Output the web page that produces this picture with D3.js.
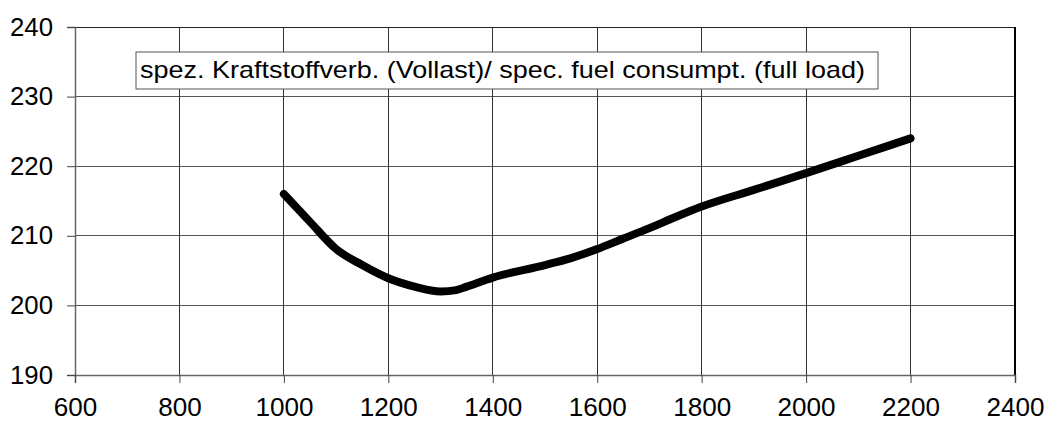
<!DOCTYPE html>
<html>
<head>
<meta charset="utf-8">
<script src="https://cdn.jsdelivr.net/npm/d3@7"></script>
<style>
  body { margin: 0; background: #fff; }
  text { font-family: "Liberation Sans", Arial, sans-serif; }
</style>
</head>
<body>
<div id="chart"></div>
<script>
const rpm = [1000, 1050, 1100, 1150, 1200, 1250, 1300, 1330, 1350, 1400, 1500, 1550, 1600, 1650, 1700, 1750, 1800, 1900, 2000, 2100, 2200];
const consumption = [216, 212.0, 208.1, 205.8, 203.9, 202.7, 202.0, 202.2, 202.7, 204.0, 205.8, 206.8, 208.1, 209.6, 211.1, 212.7, 214.2, 216.6, 219.0, 221.5, 224.0];
const xTicks = [600, 800, 1000, 1200, 1400, 1600, 1800, 2000, 2200, 2400];
const yTicks = [190, 200, 210, 220, 230, 240];
const legendLabel = "spez. Kraftstoffverb. (Vollast)/ spec. fuel consumpt. (full load)";

const width = 1047, height = 425;
const margin = { top: 27, right: 32, bottom: 50, left: 75 };
const innerW = width - margin.left - margin.right;
const innerH = height - margin.top - margin.bottom;

const svg = d3.select("#chart").append("svg")
    .attr("width", width)
    .attr("height", height);

const g = svg.append("g")
    .attr("transform", `translate(${margin.left}, ${margin.top})`);

const x = d3.scaleLinear().domain([600, 2400]).range([0, innerW]);
const y = d3.scaleLinear().domain([190, 240]).range([innerH, 0]);

// grid lines
g.append("g").selectAll("line")
    .data(yTicks.slice(1, -1))
    .enter().append("line")
    .attr("x1", 0).attr("x2", innerW)
    .attr("y1", d => y(d)).attr("y2", d => y(d))
    .attr("stroke", "#555").attr("stroke-width", 1)
    .attr("shape-rendering", "crispEdges");

g.append("g").selectAll("line")
    .data(xTicks.slice(1, -1))
    .enter().append("line")
    .attr("x1", d => x(d)).attr("x2", d => x(d))
    .attr("y1", 0).attr("y2", innerH)
    .attr("stroke", "#333").attr("stroke-width", 1)
    .attr("shape-rendering", "crispEdges");

// frame: top and right
g.append("line").attr("x1", 0).attr("x2", innerW).attr("y1", 0).attr("y2", 0)
    .attr("stroke", "#222").attr("shape-rendering", "crispEdges");
g.append("line").attr("x1", innerW).attr("x2", innerW).attr("y1", 0).attr("y2", innerH)
    .attr("stroke", "#000").attr("stroke-width", 2).attr("shape-rendering", "crispEdges");

// axes
const yAxis = g.append("g")
    .call(d3.axisLeft(y).tickValues(yTicks).tickSize(8).tickPadding(14).tickFormat(d3.format("d")));
const xAxis = g.append("g")
    .attr("transform", `translate(0, ${innerH})`)
    .call(d3.axisBottom(x).tickValues(xTicks).tickSize(8).tickPadding(12).tickFormat(d3.format("d")));

[yAxis, xAxis].forEach(ax => {
    ax.select("path.domain").attr("stroke", "#666").attr("stroke-width", 1.5);
    ax.selectAll(".tick line").attr("stroke", "#444");
    ax.selectAll("text")
        .attr("font-size", 25)
        .attr("fill", "#000")
        .style("font-family", "'Liberation Sans', Arial, sans-serif");
});
yAxis.selectAll("text").attr("textLength", 43).attr("lengthAdjust", "spacingAndGlyphs");
xAxis.selectAll("text").attr("dy", "0.85em")
    .attr("textLength", d => String(d).length * 14.5).attr("lengthAdjust", "spacingAndGlyphs");

// legend box
const legend = g.append("g").attr("transform", "translate(61, 25)");
legend.append("rect")
    .attr("x", 0).attr("y", 0)
    .attr("width", 742).attr("height", 37)
    .attr("fill", "#fff")
    .attr("stroke", "#555");
legend.append("text")
    .attr("x", 4).attr("y", 26)
    .attr("font-size", 24)
    .attr("textLength", 725)
    .attr("lengthAdjust", "spacingAndGlyphs")
    .text(legendLabel);

// curve
const line = d3.line()
    .x((d, i) => x(rpm[i]))
    .y(d => y(d))
    .curve(d3.curveMonotoneX);

g.append("path")
    .datum(consumption)
    .attr("d", line)
    .attr("fill", "none")
    .attr("stroke", "#000")
    .attr("stroke-width", 8)
    .attr("stroke-linecap", "round")
    .attr("stroke-linejoin", "round");
</script>
</body>
</html>
